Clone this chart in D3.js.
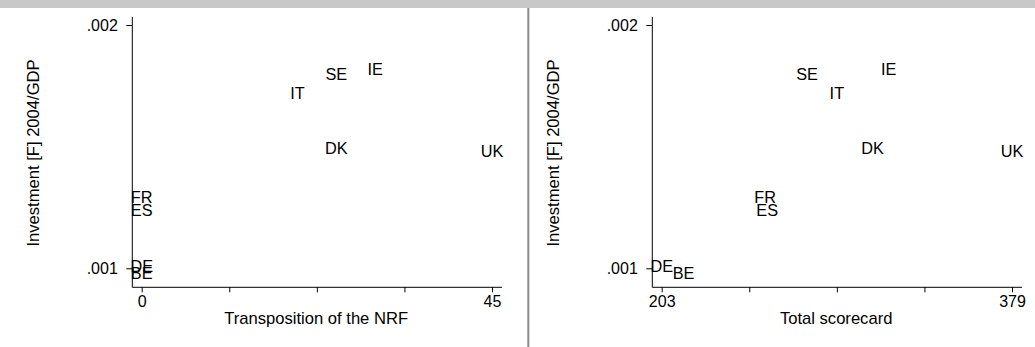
<!DOCTYPE html>
<html>
<head>
<meta charset="utf-8">
<script src="https://cdn.jsdelivr.net/npm/d3@7"></script>
<style>
  html, body { margin: 0; padding: 0; background: #fff; }
  svg { display: block; }
  text { font-family: "Liberation Sans", Arial, Helvetica, sans-serif; fill: #000; }
</style>
</head>
<body>
<svg id="chart" width="1035" height="347"></svg>
<script>
// Country codes and their values
const countries  = ["BE", "DE", "DK", "ES", "FR", "IE", "IT", "SE", "UK"];
const investment = [0.000981, 0.001009, 0.001495, 0.001240, 0.001293, 0.001818, 0.001718, 0.001798, 0.001483];
const nrf        = [0, 0, 25, 0, 0, 30, 20, 25, 45];
const scorecard  = [214, 203, 309, 256, 255, 317, 291, 276, 379];

// Axis ticks
const yTicks      = [0.001, 0.002];
const yTickLabels = [".001", ".002"];
const nrfTicks      = [0, 11.25, 22.5, 33.75, 45];
const scorecardTicks = [203, 247, 291, 335, 379];

const svg = d3.select("#chart");
const W = 1035, H = 347;
const TICK_FS = 16, TITLE_FS = 16.6, LABEL_FS = 16.3;

// top band and panel divider
svg.append("rect").attr("x", 0).attr("y", 0).attr("width", W).attr("height", 8).attr("fill", "#c8c8c8");
svg.append("line").attr("x1", 528.3).attr("x2", 528.3).attr("y1", 8).attr("y2", H)
  .attr("stroke", "#8a8a8a").attr("stroke-width", 2);

function panel(offsetX, xValues, xTicks, xTitle) {
  const plotL = 132.3 + offsetX, plotR = 502 + offsetX;
  const plotT = 17, plotB = 287.3;
  const x = d3.scaleLinear().domain([xTicks[0], xTicks[xTicks.length - 1]])
    .range([141.7 + offsetX, 492.0 + offsetX]);
  const y = d3.scaleLinear().domain([0.001, 0.002]).range([268.3, 25]);

  const g = svg.append("g");

  // axis lines
  g.append("line").attr("x1", plotL).attr("x2", plotL).attr("y1", plotT).attr("y2", plotB)
    .attr("stroke", "#000").attr("stroke-width", 1);
  g.append("line").attr("x1", plotL).attr("x2", plotR).attr("y1", plotB).attr("y2", plotB)
    .attr("stroke", "#000").attr("stroke-width", 1);

  // y axis
  const yAxis = d3.axisLeft(y).tickValues(yTicks)
    .tickFormat((d, i) => yTickLabels[i]).tickSize(6).tickPadding(8.5);
  const ya = g.append("g").attr("transform", `translate(${plotL},0)`).call(yAxis);
  ya.select(".domain").remove();
  ya.selectAll("text").attr("font-size", TICK_FS).attr("font-family", null);

  // x axis: only the end ticks are labelled
  const last = xTicks.length - 1;
  const xAxis = d3.axisBottom(x).tickValues(xTicks)
    .tickFormat((d, i) => (i === 0 || i === last) ? String(d) : "").tickSize(5).tickPadding(3.7);
  const xa = g.append("g").attr("transform", `translate(0,${plotB})`).call(xAxis);
  xa.select(".domain").remove();
  xa.selectAll("text").attr("font-size", TICK_FS).attr("font-family", null);

  // axis titles
  g.append("text")
    .attr("transform", `translate(${33 + offsetX},${153}) rotate(-90)`)
    .attr("text-anchor", "middle").attr("dy", "0.36em").attr("font-size", TITLE_FS)
    .text("Investment [F] 2004/GDP");
  g.append("text")
    .attr("x", (plotL + plotR) / 2 - 1).attr("y", 323.8)
    .attr("text-anchor", "middle").attr("font-size", TITLE_FS)
    .text(xTitle);

  // country labels centred on each point
  g.selectAll("text.lab").data(countries).join("text")
    .attr("class", "lab")
    .attr("x", (d, i) => x(xValues[i]))
    .attr("y", (d, i) => y(investment[i]))
    .attr("dy", "0.36em")
    .attr("text-anchor", "middle")
    .attr("font-size", LABEL_FS)
    .text(d => d);
}

panel(0, nrf, nrfTicks, "Transposition of the NRF");
panel(520, scorecard, scorecardTicks, "Total scorecard");
</script>
</body>
</html>
